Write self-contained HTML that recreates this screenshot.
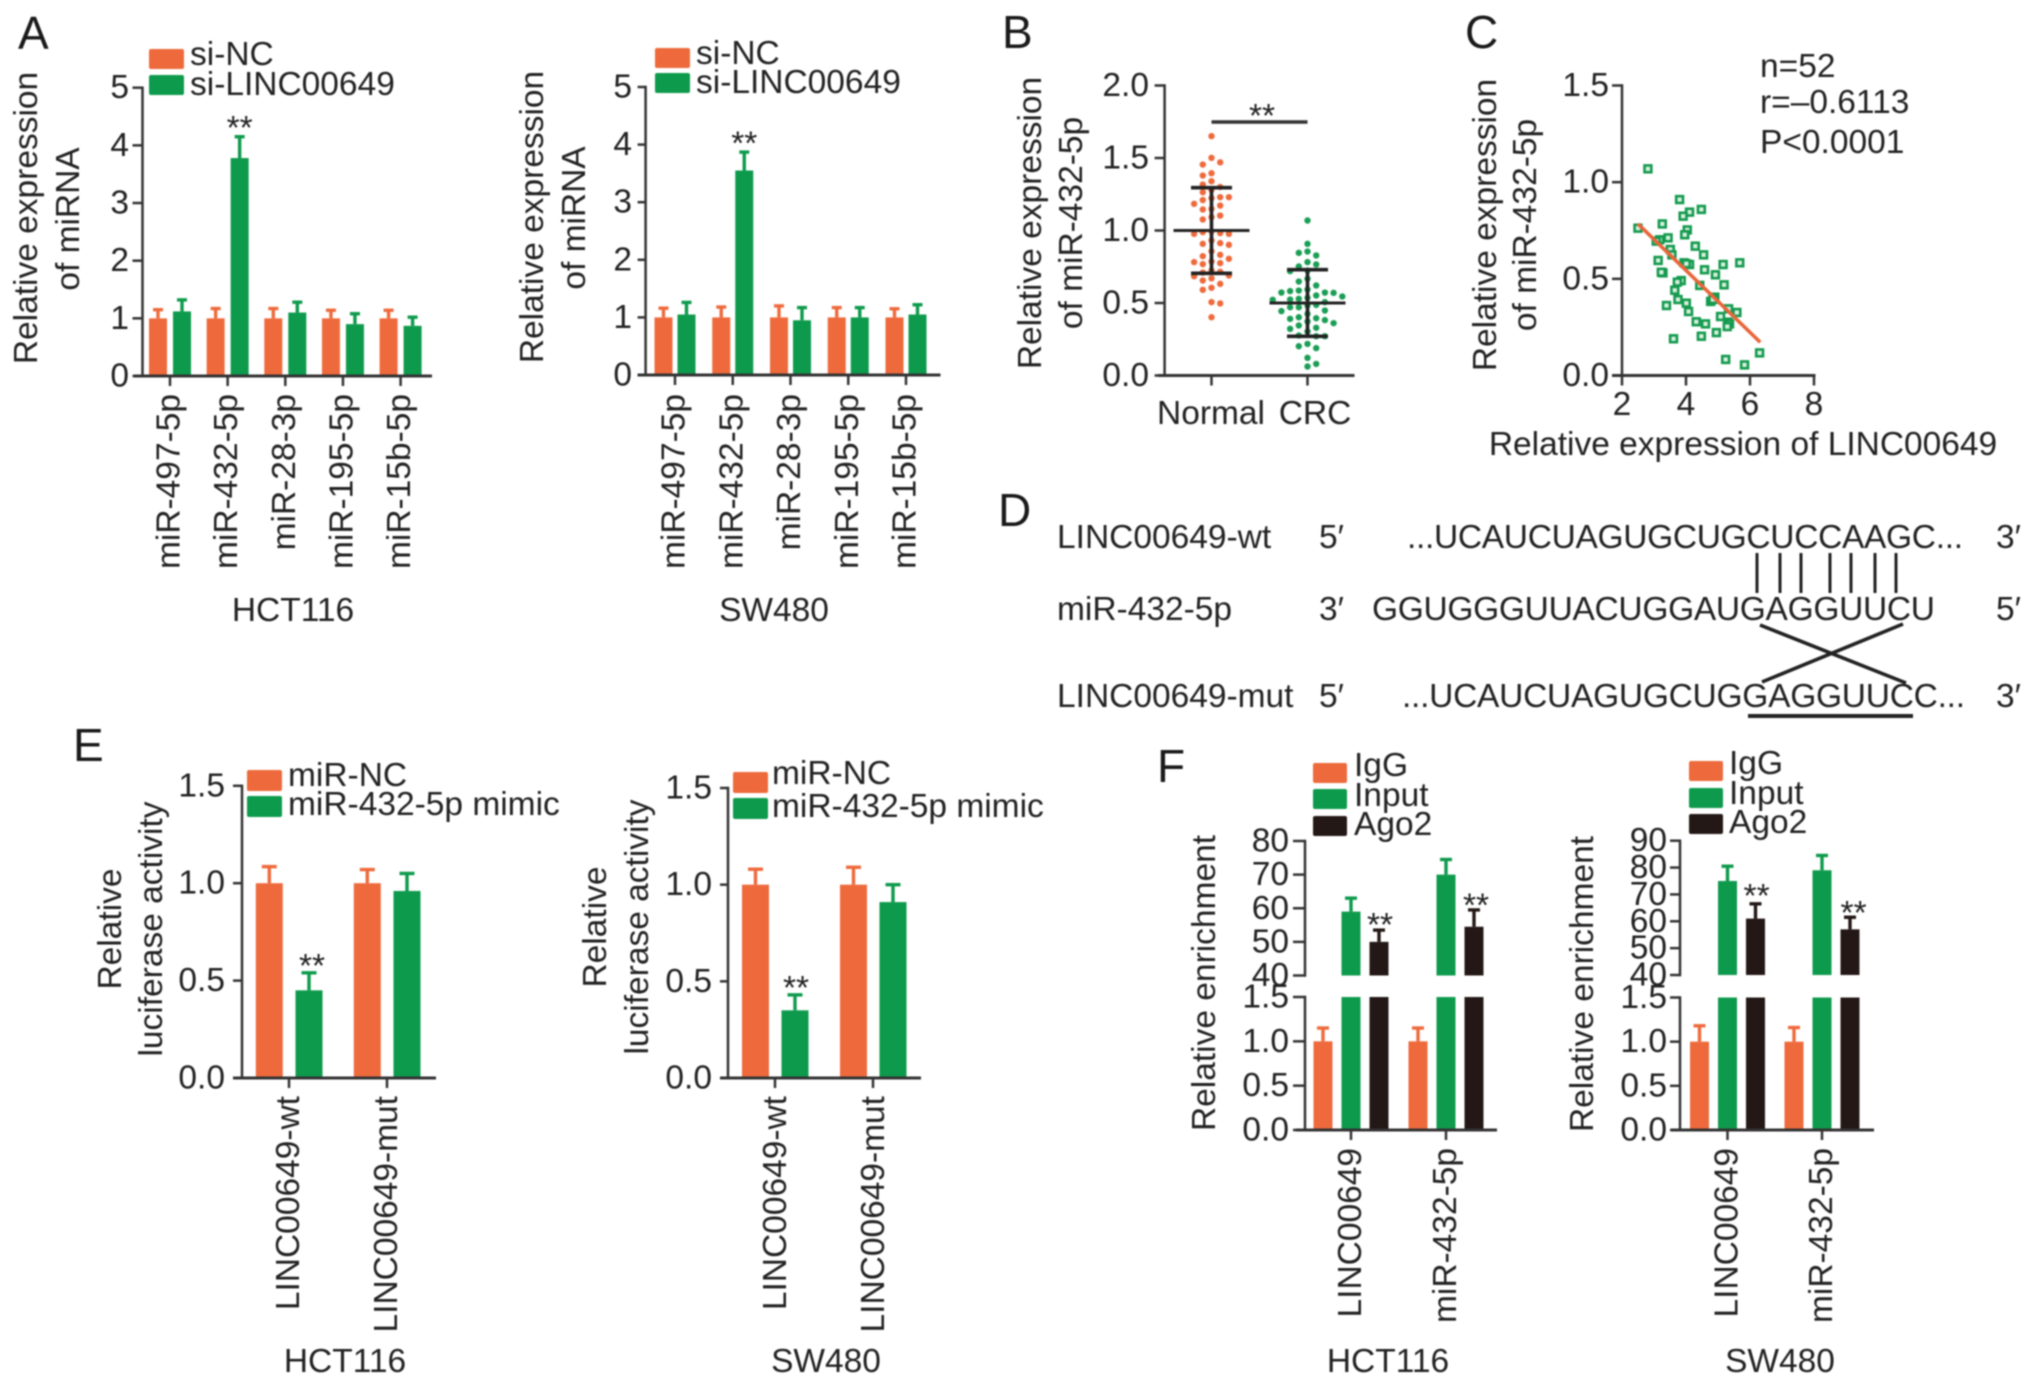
<!DOCTYPE html>
<html lang="en">
<head>
<meta charset="utf-8">
<title>LINC00649 and miR-432-5p figure</title>
<style>
html,body{margin:0;padding:0;background:#fff;}
svg{display:block;filter:blur(0.8px);}
text{font-family:"Liberation Sans",Arial,sans-serif;font-size:33.5px;fill:#222;}
.letter{font-size:46px;fill:#1a1a1a;}
</style>
</head>
<body>
<svg id="figure" xmlns="http://www.w3.org/2000/svg" width="2032" height="1386" viewBox="0 0 2032 1386">
<rect x="0" y="0" width="2032" height="1386" fill="#fff"/>

<!-- Panel letters -->
<text class="letter" x="18" y="49">A</text>
<text class="letter" x="1002" y="48">B</text>
<text class="letter" x="1465" y="48">C</text>
<text class="letter" x="998" y="526">D</text>
<text class="letter" x="73" y="761">E</text>
<text class="letter" x="1157" y="782">F</text>

<!-- Panel A static text -->
<g>
<rect x="149" y="49" width="35" height="20" rx="2" fill="#ee6a3c"/>
<rect x="149" y="75" width="35" height="20" rx="2" fill="#0e9a4c"/>
<text x="190" y="65">si-NC</text>
<text x="190" y="95">si-LINC00649</text>
</g>
<g>
<rect x="655" y="48" width="35" height="20" rx="2" fill="#ee6a3c"/>
<rect x="655" y="73" width="35" height="20" rx="2" fill="#0e9a4c"/>
<text x="696" y="64">si-NC</text>
<text x="696" y="93">si-LINC00649</text>
</g>
<text transform="rotate(-90 37 218)" x="37" y="218" text-anchor="middle">Relative expression</text>
<text transform="rotate(-90 79 219)" x="79" y="219" text-anchor="middle">of miRNA</text>
<text transform="rotate(-90 543 217)" x="543" y="217" text-anchor="middle">Relative expression</text>
<text transform="rotate(-90 585 218)" x="585" y="218" text-anchor="middle">of miRNA</text>
<text x="293" y="621" text-anchor="middle">HCT116</text>
<text x="774" y="621" text-anchor="middle">SW480</text>

<!-- Panel B static text -->
<text transform="rotate(-90 1041 223)" x="1041" y="223" text-anchor="middle">Relative expression</text>
<text transform="rotate(-90 1082 223)" x="1082" y="223" text-anchor="middle">of miR-432-5p</text>

<!-- Panel C static text -->
<text transform="rotate(-90 1496 225)" x="1496" y="225" text-anchor="middle">Relative expression</text>
<text transform="rotate(-90 1536 225)" x="1536" y="225" text-anchor="middle">of miR-432-5p</text>
<text x="1743" y="455" text-anchor="middle">Relative expression of LINC00649</text>
<text x="1760" y="77">n=52</text>
<text x="1760" y="113">r=&#8211;0.6113</text>
<text x="1760" y="153">P&lt;0.0001</text>

<!-- Panel D -->
<g>
<text x="1057" y="548">LINC00649-wt</text>
<text x="1319" y="548">5&#8242;</text>
<text x="1407" y="548" textLength="556" lengthAdjust="spacing">...UCAUCUAGUGCUGCUCCAAGC...</text>
<text x="1996" y="548">3&#8242;</text>
<text x="1057" y="620">miR-432-5p</text>
<text x="1319" y="620">3&#8242;</text>
<text x="1372" y="620" textLength="563" lengthAdjust="spacing">GGUGGGUUACUGGAUGAGGUUCU</text>
<text x="1996" y="620">5&#8242;</text>
<text x="1057" y="707">LINC00649-mut</text>
<text x="1319" y="707">5&#8242;</text>
<text x="1402" y="707" textLength="563" lengthAdjust="spacing">...UCAUCUAGUGCUGGAGGUUCC...</text>
<text x="1996" y="707">3&#8242;</text>
<g stroke="#222" stroke-width="3">
<line x1="1757" y1="553" x2="1757" y2="593"/>
<line x1="1780" y1="553" x2="1780" y2="593"/>
<line x1="1801" y1="553" x2="1801" y2="593"/>
<line x1="1830" y1="553" x2="1830" y2="593"/>
<line x1="1851" y1="553" x2="1851" y2="593"/>
<line x1="1875" y1="553" x2="1875" y2="593"/>
<line x1="1896" y1="553" x2="1896" y2="593"/>
</g>
<line x1="1760" y1="625" x2="1906" y2="683" stroke="#222" stroke-width="3.6"/>
<line x1="1903" y1="624" x2="1762" y2="682" stroke="#222" stroke-width="3.6"/>
<line x1="1748" y1="716" x2="1913" y2="716" stroke="#222" stroke-width="4"/>
</g>

<!-- Panel E static text -->
<g>
<rect x="247" y="770" width="35" height="21" rx="2" fill="#ee6a3c"/>
<rect x="247" y="796" width="35" height="21" rx="2" fill="#0e9a4c"/>
<text x="288" y="786">miR-NC</text>
<text x="288" y="815">miR-432-5p mimic</text>
</g>
<g>
<rect x="733" y="772" width="35" height="21" rx="2" fill="#ee6a3c"/>
<rect x="733" y="798" width="35" height="21" rx="2" fill="#0e9a4c"/>
<text x="772" y="784">miR-NC</text>
<text x="772" y="817">miR-432-5p mimic</text>
</g>
<text transform="rotate(-90 121 929)" x="121" y="929" text-anchor="middle">Relative</text>
<text transform="rotate(-90 162 929)" x="162" y="929" text-anchor="middle">luciferase activity</text>
<text transform="rotate(-90 606 927)" x="606" y="927" text-anchor="middle">Relative</text>
<text transform="rotate(-90 648 927)" x="648" y="927" text-anchor="middle">luciferase activity</text>
<text x="345" y="1372" text-anchor="middle">HCT116</text>
<text x="826" y="1372" text-anchor="middle">SW480</text>

<!-- Panel F static text -->
<g>
<rect x="1313" y="763" width="34" height="20" rx="2" fill="#ee6a3c"/>
<rect x="1313" y="789" width="34" height="20" rx="2" fill="#0e9a4c"/>
<rect x="1313" y="816" width="34" height="20" rx="2" fill="#231815"/>
<text x="1354" y="776">IgG</text>
<text x="1354" y="806">Input</text>
<text x="1354" y="835">Ago2</text>
</g>
<g>
<rect x="1689" y="761" width="34" height="20" rx="2" fill="#ee6a3c"/>
<rect x="1689" y="788" width="34" height="20" rx="2" fill="#0e9a4c"/>
<rect x="1689" y="814" width="34" height="20" rx="2" fill="#231815"/>
<text x="1729" y="774">IgG</text>
<text x="1729" y="804">Input</text>
<text x="1729" y="833">Ago2</text>
</g>
<text transform="rotate(-90 1215 983)" x="1215" y="983" text-anchor="middle">Relative enrichment</text>
<text transform="rotate(-90 1593 984)" x="1593" y="984" text-anchor="middle">Relative enrichment</text>
<text x="1388" y="1372" text-anchor="middle">HCT116</text>
<text x="1780" y="1372" text-anchor="middle">SW480</text>
</svg>

<script>
// ---------- Panel A data ----------
const aCategories = ['miR-497-5p','miR-432-5p','miR-28-3p','miR-195-5p','miR-15b-5p'];
const aTicks = ['0','1','2','3','4','5'];
const aHctNc = [1.0,1.0,1.0,1.0,1.0];
const aHctNcErr = [0.15,0.17,0.17,0.14,0.14];
const aHctSi = [1.12,3.78,1.10,0.90,0.87];
const aHctSiErr = [0.20,0.37,0.18,0.18,0.15];
const aSwNc = [1.0,1.0,1.0,1.0,1.0];
const aSwNcErr = [0.16,0.18,0.20,0.17,0.15];
const aSwSi = [1.05,3.55,0.95,1.0,1.05];
const aSwSiErr = [0.21,0.32,0.22,0.17,0.17];

// ---------- Panel B data ----------
const bTicks = ['0.0','0.5','1.0','1.5','2.0'];
const bCategories = ['Normal','CRC'];
const bNormal = [1.651,1.501,1.47,1.455,1.395,1.379,1.34,1.317,1.30,1.28,1.264,1.23,1.23,1.223,1.21,1.184,1.172,1.149,1.145,1.103,1.092,1.076,0.993,0.989,0.982,0.977,0.977,0.931,0.913,0.908,0.901,0.857,0.832,0.823,0.805,0.786,0.782,0.775,0.768,0.724,0.715,0.71,0.69,0.685,0.67,0.655,0.632,0.605,0.591,0.506,0.497,0.402];
const bCrc = [1.069,0.908,0.855,0.846,0.828,0.782,0.766,0.752,0.724,0.72,0.667,0.648,0.621,0.593,0.586,0.582,0.572,0.572,0.57,0.552,0.545,0.536,0.529,0.524,0.522,0.506,0.487,0.483,0.471,0.471,0.448,0.444,0.425,0.402,0.395,0.391,0.382,0.372,0.361,0.345,0.329,0.322,0.303,0.276,0.271,0.271,0.218,0.202,0.189,0.122,0.08,0.062];
const bMeans = [1.0,0.5];
const bSd = [0.295,0.23];

// ---------- Panel C data ----------
const cXTicks = ['2','4','6','8'];
const cYTicks = ['0.0','0.5','1.0','1.5'];
const cLinc = [2.81,3.80,4.48,4.11,3.91,3.26,2.50,4.04,3.96,3.44,3.18,3.07,3.51,3.56,4.29,4.55,3.13,3.94,4.11,5.16,5.68,4.01,4.58,3.28,3.23,4.92,3.85,3.73,4.43,5.19,3.65,4.90,3.75,4.77,4.01,3.39,4.08,5.33,5.59,5.08,4.32,4.61,5.31,5.36,5.29,4.95,4.48,3.61,6.30,5.24,5.83,4.84];
const cMir = [1.069,0.910,0.859,0.845,0.824,0.784,0.762,0.753,0.728,0.712,0.702,0.695,0.652,0.624,0.669,0.624,0.595,0.583,0.574,0.574,0.583,0.578,0.547,0.531,0.534,0.521,0.491,0.483,0.466,0.469,0.441,0.405,0.393,0.383,0.374,0.362,0.331,0.345,0.326,0.305,0.278,0.267,0.276,0.267,0.253,0.222,0.203,0.190,0.117,0.083,0.055,0.393];
const cFitX = [2.5,6.32];
const cFitY = [0.784,0.172];

// ---------- Panel E data ----------
const eCategories = ['LINC00649-wt','LINC00649-mut'];
const eTicks = ['0.0','0.5','1.0','1.5'];
const eHctNc = [1.0,1.0];
const eHctNcErr = [0.085,0.07];
const eHctMimic = [0.45,0.96];
const eHctMimicErr = [0.09,0.09];
const eSwNc = [1.0,1.0];
const eSwNcErr = [0.08,0.09];
const eSwMimic = [0.35,0.91];
const eSwMimicErr = [0.08,0.09];

// ---------- Panel F data ----------
const fCategories = ['LINC00649','miR-432-5p'];
const fLowerTicks = ['0.0','0.5','1.0','1.5'];
const fHctUpperTicks = ['40','50','60','70','80'];
const fSwUpperTicks = ['40','50','60','70','80','90'];
const fHctIgg = [1.0,1.0];
const fHctIggErr = [0.15,0.15];
const fHctInput = [59,70];
const fHctInputErr = [4,4.5];
const fHctAgo = [50,54.5];
const fHctAgoErr = [3.5,5];
const fSwIgg = [1.0,1.0];
const fSwIggErr = [0.18,0.16];
const fSwInput = [75,79];
const fSwInputErr = [5.5,5.5];
const fSwAgo = [61,57];
const fSwAgoErr = [5.5,4.5];

// ---------- Drawing helpers ----------
const NS = 'http://www.w3.org/2000/svg';
const root = document.getElementById('figure');
const ORANGE = '#ee6a3c', GREEN = '#0e9a4c', BLACK = '#231815', AXIS = '#333';

function scale(d0, d1, r0, r1) {
  return function (v) { return r0 + (v - d0) * (r1 - r0) / (d1 - d0); };
}
function makeGroup(name) {
  const el = document.createElementNS(NS, 'g');
  
  
  root.appendChild(el);
  return el;
}
function line(parent, name, x1, y1, x2, y2, color, width) {
  const el = document.createElementNS(NS, 'line');
  el.setAttribute('x1', x1);
  el.setAttribute('y1', y1);
  el.setAttribute('x2', x2);
  el.setAttribute('y2', y2);
  el.setAttribute('stroke', color);
  el.setAttribute('stroke-width', width);
  
  
  parent.appendChild(el);
  return el;
}
function box(parent, name, x, y, w, h, color) {
  const el = document.createElementNS(NS, 'rect');
  el.setAttribute('x', x);
  el.setAttribute('y', y);
  el.setAttribute('width', w);
  el.setAttribute('height', Math.max(0, h));
  el.setAttribute('fill', color);
  
  
  parent.appendChild(el);
  return el;
}
function label(parent, name, str, x, y, anchor, rotate) {
  const el = document.createElementNS(NS, 'text');
  el.setAttribute('x', x);
  el.setAttribute('y', y);
  el.setAttribute('text-anchor', anchor);
  if (rotate) el.setAttribute('transform', 'rotate(-90 ' + x + ' ' + y + ')');
  
  
  el.textContent = str;
  parent.appendChild(el);
  return el;
}
function yAxis(g, x, ticks, y, tickLen, labelX) {
  const vals = ticks.map(Number);
  line(g, 'y-axis-line', x, y(Math.min.apply(null, vals)) + 1.2, x, y(Math.max.apply(null, vals)) - 1.2, AXIS, 2.5);
  ticks.forEach(function (t) {
    line(g, 'y-axis-tick', x - tickLen, y(Number(t)), x, y(Number(t)), AXIS, 2.5);
    label(g, 'y-tick-label', t, labelX, y(Number(t)) + 10.5, 'end');
  });
}
function xBaseline(g, x0, x1, y0, tickXs, tickLen) {
  line(g, 'x-axis-line', x0, y0, x1, y0, AXIS, 3);
  tickXs.forEach(function (tx) {
    line(g, 'x-axis-tick', tx, y0, tx, y0 + tickLen, AXIS, 2.5);
  });
}
function rotatedCategories(g, categories, tickXs, baseOffset, top) {
  categories.forEach(function (c, i) {
    label(g, 'x-category-label', c, tickXs[i] + baseOffset, top, 'end', true);
  });
}
function errorBar(g, cx, yTop, yBase, capW, color) {
  line(g, 'error-bar-stem', cx, yTop, cx, yBase, color, 3.4);
  line(g, 'error-bar-cap', cx - capW / 2, yTop, cx + capW / 2, yTop, color, 3.4);
}
function stars(g, x, yCenter) {
  label(g, 'significance-stars', '**', x, yCenter + 19, 'middle');
}
// simple grouped bars on one continuous axis
function bars(g, tickXs, values, errors, offset, barW, y, y0, color, capW) {
  values.forEach(function (v, i) {
    const cx = tickXs[i] + offset;
    box(g, 'bar', cx - barW / 2, y(v), barW, y0 - y(v), color);
    errorBar(g, cx, y(v + errors[i]), y(v), capW, color);
  });
}
// bars on a broken axis
function brokenBars(g, tickXs, values, errors, offset, barW, lower, upper, color, capW) {
  const y0 = lower(0);
  values.forEach(function (v, i) {
    const cx = tickXs[i] + offset;
    if (v <= 1.5) {
      box(g, 'bar', cx - barW / 2, lower(v), barW, y0 - lower(v), color);
      errorBar(g, cx, lower(v + errors[i]), lower(v), capW, color);
    } else {
      box(g, 'bar-lower-segment', cx - barW / 2, lower(1.5), barW, y0 - lower(1.5), color);
      box(g, 'bar-upper-segment', cx - barW / 2, upper(v), barW, upper(40) - upper(v), color);
      errorBar(g, cx, upper(v + errors[i]), upper(v), capW, color);
    }
  });
}
// beeswarm: horizontal column comes from how crowded each value is
function swarm(g, values, cx, y, color) {
  const cols = {};
  const sorted = values.slice().sort(function (a, b) { return b - a; });
  sorted.forEach(function (v, idx) {
    const sign = idx % 2 === 0 ? 1 : -1;
    const order = [0, sign, -sign, 2 * sign, -2 * sign, 3 * sign, -3 * sign, 4 * sign, -4 * sign];
    let col = order[order.length - 1];
    for (let k = 0; k < order.length; k++) {
      const list = cols[order[k]] || [];
      if (list.every(function (u) { return Math.abs(u - v) > 0.052; })) { col = order[k]; break; }
    }
    (cols[col] = cols[col] || []).push(v);
    const el = document.createElementNS(NS, 'circle');
    el.setAttribute('cx', cx + col * 8.7);
    el.setAttribute('cy', y(v));
    el.setAttribute('r', 3.2);
    el.setAttribute('fill', color);
    
    
    g.appendChild(el);
  });
}

// ---------- Panel A ----------
(function () {
  const g = makeGroup('panel-a-hct116-chart');
  const y = scale(0, 5, 376, 87.7);
  const xs = aCategories.map(function (c, i) { return scale(0, 4, 170, 400.6)(i); });
  bars(g, xs, aHctNc, aHctNcErr, -12, 18, y, 376, ORANGE, 10);
  bars(g, xs, aHctSi, aHctSiErr, 12, 18, y, 376, GREEN, 10);
  yAxis(g, 142.5, aTicks, y, 10, 129);
  xBaseline(g, 134, 432, 376, xs, 10);
  rotatedCategories(g, aCategories, xs, 9.5, 394);
  stars(g, xs[1] + 12, 120);

  const g2 = makeGroup('panel-a-sw480-chart');
  const y2 = scale(0, 5, 375, 87);
  const xs2 = aCategories.map(function (c, i) { return scale(0, 4, 675, 906)(i); });
  bars(g2, xs2, aSwNc, aSwNcErr, -11.5, 18, y2, 375, ORANGE, 10);
  bars(g2, xs2, aSwSi, aSwSiErr, 11.5, 18, y2, 375, GREEN, 10);
  yAxis(g2, 645.6, aTicks, y2, 8, 632);
  xBaseline(g2, 637.5, 940.5, 375, xs2, 10);
  rotatedCategories(g2, aCategories, xs2, 9.5, 394);
  stars(g2, xs2[1] + 11.5, 135.5);
})();

// ---------- Panel B ----------
(function () {
  const g = makeGroup('panel-b-chart');
  const y = scale(0, 2, 375.5, 85.5);
  const xs = bCategories.map(function (c, i) { return scale(0, 1, 1211.5, 1307.5)(i); });
  swarm(g, bNormal, xs[0], y, ORANGE);
  swarm(g, bCrc, xs[1], y, '#1a9e55');
  bMeans.forEach(function (m, i) {
    const halfMean = 38, halfCap = 20.5;
    line(g, 'mean-line', xs[i] - halfMean, y(m), xs[i] + halfMean, y(m), '#222', 3);
    line(g, 'sd-stem', xs[i], y(m + bSd[i]), xs[i], y(m - bSd[i]), '#222', 3.6);
    line(g, 'sd-cap-top', xs[i] - halfCap, y(m + bSd[i]), xs[i] + halfCap, y(m + bSd[i]), '#222', 3.6);
    line(g, 'sd-cap-bottom', xs[i] - halfCap, y(m - bSd[i]), xs[i] + halfCap, y(m - bSd[i]), '#222', 3.6);
  });
  yAxis(g, 1164.6, bTicks, y, 10, 1149);
  xBaseline(g, 1158, 1354.5, 375.5, xs, 10);
  label(g, 'x-category-label', bCategories[0], 1211, 424, 'middle');
  label(g, 'x-category-label', bCategories[1], 1315, 424, 'middle');
  line(g, 'significance-bracket', xs[0], 122, xs[1], 122, '#333', 3.4);
  stars(g, 1262, 108);
})();

// ---------- Panel C ----------
(function () {
  const g = makeGroup('panel-c-chart');
  const x = scale(2, 8, 1622, 1814);
  const y = scale(0, 1.5, 375.5, 85.5);
  cLinc.forEach(function (v, i) {
    const el = document.createElementNS(NS, 'rect');
    el.setAttribute('x', x(v) - 3.4);
    el.setAttribute('y', y(cMir[i]) - 3.4);
    el.setAttribute('width', 6.8);
    el.setAttribute('height', 6.8);
    el.setAttribute('fill', '#d8f0e0');
    el.setAttribute('stroke', '#149a4e');
    el.setAttribute('stroke-width', 2.6);
    
    
    g.appendChild(el);
  });
  line(g, 'regression-line', x(cFitX[0]), y(cFitY[0]), x(cFitX[1]), y(cFitY[1]), '#e8663a', 3.6);
  yAxis(g, 1622, cYTicks, y, 10, 1609);
  const tickXs = cXTicks.map(function (t) { return x(Number(t)); });
  xBaseline(g, 1612, 1815.5, 375.5, tickXs, 10);
  cXTicks.forEach(function (t) {
    label(g, 'x-tick-label', t, x(Number(t)), 415, 'middle');
  });
})();

// ---------- Panel E ----------
(function () {
  const g = makeGroup('panel-e-hct116-chart');
  const y = scale(0, 1.5, 1078, 785.8);
  const xs = eCategories.map(function (c, i) { return scale(0, 1, 289, 387)(i); });
  bars(g, xs, eHctNc, eHctNcErr, -19.7, 27, y, 1078, ORANGE, 15);
  bars(g, xs, eHctMimic, eHctMimicErr, 20, 27, y, 1078, GREEN, 15);
  yAxis(g, 242, eTicks, y, 9, 225);
  xBaseline(g, 233, 436, 1078, xs, 10);
  rotatedCategories(g, eCategories, [xs[0], xs[1]], 10, 1096);
  stars(g, 312, 958);

  const g2 = makeGroup('panel-e-sw480-chart');
  const y2 = scale(0, 1.5, 1078, 788);
  const xs2 = eCategories.map(function (c, i) { return scale(0, 1, 775, 873)(i); });
  bars(g2, xs2, eSwNc, eSwNcErr, -19.5, 27, y2, 1078, ORANGE, 15);
  bars(g2, xs2, eSwMimic, eSwMimicErr, 20, 27, y2, 1078, GREEN, 15);
  yAxis(g2, 728, eTicks, y2, 8, 712);
  xBaseline(g2, 720, 921, 1078, xs2, 10);
  rotatedCategories(g2, eCategories, [xs2[0], xs2[1]], 11, 1096);
  stars(g2, 796, 980);
})();

// ---------- Panel F ----------
(function () {
  const g = makeGroup('panel-f-hct116-chart');
  const upper = scale(40, 80, 975.5, 841);
  const lower = scale(0, 1.5, 1130, 997);
  const xs = fCategories.map(function (c, i) { return scale(0, 1, 1351, 1446)(i); });
  brokenBars(g, xs, fHctIgg, fHctIggErr, -28, 19, lower, upper, ORANGE, 12);
  brokenBars(g, xs, fHctInput, fHctInputErr, 0, 19, lower, upper, GREEN, 12);
  brokenBars(g, xs, fHctAgo, fHctAgoErr, 28, 19, lower, upper, BLACK, 12);
  yAxis(g, 1305, fHctUpperTicks, upper, 12, 1289);
  yAxis(g, 1305, fLowerTicks, lower, 12, 1289);
  xBaseline(g, 1296, 1497, 1130, xs, 10);
  rotatedCategories(g, fCategories, xs, 10, 1148);
  stars(g, 1380, 917);
  stars(g, 1476, 897.5);

  const g2 = makeGroup('panel-f-sw480-chart');
  const upper2 = scale(40, 90, 975, 840.7);
  const lower2 = scale(0, 1.5, 1130, 997.5);
  const xs2 = fCategories.map(function (c, i) { return scale(0, 1, 1727.5, 1822)(i); });
  brokenBars(g2, xs2, fSwIgg, fSwIggErr, -28, 19, lower2, upper2, ORANGE, 12);
  brokenBars(g2, xs2, fSwInput, fSwInputErr, 0, 19, lower2, upper2, GREEN, 12);
  brokenBars(g2, xs2, fSwAgo, fSwAgoErr, 28, 19, lower2, upper2, BLACK, 12);
  yAxis(g2, 1680, fSwUpperTicks, upper2, 10, 1667);
  yAxis(g2, 1680, fLowerTicks, lower2, 10, 1667);
  xBaseline(g2, 1671, 1874, 1130, xs2, 10);
  rotatedCategories(g2, fCategories, xs2, 10, 1148);
  stars(g2, 1756.6, 888);
  stars(g2, 1853.6, 905);
})();
</script>
</body>
</html>
